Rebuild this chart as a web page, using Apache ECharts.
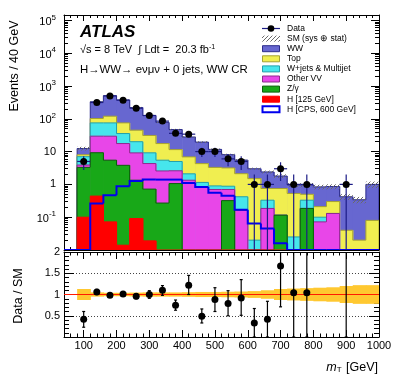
<!DOCTYPE html>
<html><head><meta charset="utf-8">
<script src="https://cdn.jsdelivr.net/npm/echarts@6/dist/echarts.min.js"></script>
<style>html,body{margin:0;padding:0;background:#fff;}#c{width:399px;height:383px;}</style>
</head><body><div id="c"></div>
<script>
// ---------------- data ----------------
const binLow = [80,120,160,200,240,280,320,360,400,440,480,520,560,600,640,680,720,760,800,840,880,920,960];
const binWidth = 40;
const higgs125 = [0.10,0.44,0.072,0.014,0.091,0.019,0,0,0,0,0,0,0,0,0,0,0,0,0,0,0,0,0];
const zgamma   = [3.2,8.8,5.4,3.8,1.25,0.70,0.27,1.06,0,0,0,0.32,0,0,0,0.115,0,0.185,0,0,0,0,0];
const otherVV  = [0.6,20.3,24.0,13.8,7.8,3.6,2.3,1.54,1.34,0.84,0.70,0.38,0.16,0,0.185,0,0,0,0.072,0.13,0,0,0];
const wjets    = [3.1,45.5,45.5,17.9,10.9,4.85,2.9,2.4,0.76,0.31,0.20,0.18,0.26,0.02,0.145,0,0.025,0.145,0.028,0,0,0,0];
const topBkg   = [1.0,27,45,39.5,25,21.9,12.1,6.5,4.8,3.15,2.4,2.3,1.7,1.48,0.42,0.635,0.505,0.17,0.11,0.17,0.04,0.02,0.08];
const wwBkg    = [4.4,228,385,300,175,95,60,35.5,21,15.2,8.4,4.9,3.4,1.5,1.65,1.05,0.43,0.46,0.63,0.56,0.38,0.32,0.92];
const cps600   = [0,0.26,0.47,0.88,1.27,1.4,1.4,1.4,1.1,0.84,0.56,0.45,0.17,0.064,0.045,0.016,0,0,0,0,0,0,0];
const dataCounts = [5,314,499,369,210,126,85,36,34,10,10,6,5,1,1,3,1,1,0,0,1,0,0];
const smRelUnc = [0.13,0.05,0.04,0.04,0.045,0.05,0.05,0.05,0.055,0.06,0.06,0.065,0.07,0.08,0.1,0.13,0.14,0.15,0.16,0.17,0.2,0.22,0.22];
const ratioVals  = [0.42,1.06,0.98,1.01,0.96,1.0,1.1,0.75,1.22,0.49,0.88,0.79,0.92,0.33,0.42,1.67,1.04,1.04,null,null,2.4,null,null];
const ratioErrLo = [0.23,1.0,0.94,0.96,0.9,0.91,0.98,0.63,1.0,0.33,0.6,0.5,0.51,0,0,0.71,0,0,null,null,0,null,null];
const ratioErrHi = [0.6,1.12,1.02,1.06,1.02,1.09,1.21,0.87,1.45,0.66,1.16,1.09,1.35,0.67,0.84,2.5,2.5,2.5,null,null,2.5,null,null];
const xTickLabels = [100,200,300,400,500,600,700,800,900,1000];
const yMainTickLabels = [0.1,1,10,100,1000,10000,100000];
const yRatioTickLabels = [0.5,1,1.5,2];
const legendNames = ['Data','SM (sys \u2295 stat)','WW','Top','W+jets & Multijet','Other VV','Z/\u03b3','H [125 GeV]','H [CPS, 600 GeV]'];

// ---------------- setup ----------------
const FONT = '"Liberation Sans", Arial, Helvetica, sans-serif';
const XMIN = 40, XMAX = 1000, YMIN = 0.01, YMAX = 1.46e5, RMIN = 0, RMAX = 2;
const n = binLow.length;

const comps = [higgs125, zgamma, otherVV, wjets, topBkg, wwBkg];
const cum = [];
let run = new Array(n).fill(0);
comps.forEach(c => { run = run.map((v, i) => v + c[i]); cum.push(run.slice()); });
const total = cum[cum.length - 1];

const hatch = document.createElement('canvas');
hatch.width = 4; hatch.height = 4;
const hc = hatch.getContext('2d');
hc.strokeStyle = '#6a6a6a'; hc.lineWidth = 1;
[[0,4,4,0],[-1,1,1,-1],[3,5,5,3]].forEach(s => { hc.beginPath(); hc.moveTo(s[0],s[1]); hc.lineTo(s[2],s[3]); hc.stroke(); });
const hatchFill = {image: hatch, repeat: 'repeat'};

// tick positions
const xMajor = xTickLabels.slice();
const xMinor = []; for (let x = 60; x < XMAX; x += 20) if (x % 100 !== 0) xMinor.push(x);
const yMajor = [0.01].concat(yMainTickLabels);
const yMinor = []; for (let k = -2; k <= 4; k++) for (let m = 2; m <= 9; m++) yMinor.push(+(m * Math.pow(10, k)).toPrecision(3));
const rMinor = []; for (let i = 1; i < 20; i++) if (i % 5 !== 0) rMinor.push(i / 10);

function xAx(grid, pos, ticks, len, extra) {
  return Object.assign({
    type: 'value', gridIndex: grid, position: pos, min: XMIN, max: XMAX,
    axisLine: {show: false, onZero: false}, splitLine: {show: false},
    axisTick: {show: true, inside: true, length: len, customValues: ticks, lineStyle: {color: '#000', width: 1}},
    axisLabel: {show: false}
  }, extra || {});
}
function yAx(grid, pos, ticks, len, isLog, extra) {
  const o = {
    type: isLog ? 'log' : 'value', gridIndex: grid, position: pos,
    min: isLog ? YMIN : RMIN, max: isLog ? YMAX : RMAX,
    axisLine: {show: false, onZero: false}, splitLine: {show: false},
    axisTick: {show: true, inside: true, length: len, customValues: ticks, lineStyle: {color: '#000', width: 1}},
    axisLabel: {show: false}
  };
  if (isLog) o.logBase = 10;
  return Object.assign(o, extra || {});
}
const frameLine = {show: true, onZero: false, lineStyle: {color: '#000', width: 1}};

const xAxes = [
  xAx(0, 'bottom', xMajor, 6, {axisLine: frameLine}),
  xAx(0, 'bottom', xMinor, 3),
  xAx(0, 'top', xMajor, 6, {axisLine: frameLine}),
  xAx(0, 'top', xMinor, 3),
  xAx(1, 'bottom', xMajor, 7, {axisLine: frameLine, axisLabel: {show: true, customValues: xTickLabels, margin: 3, fontSize: 11, fontFamily: FONT, color: '#000', hideOverlap: false, showMinLabel: true, showMaxLabel: true, formatter: v => String(v)}}),
  xAx(1, 'bottom', xMinor, 3.5),
  xAx(1, 'top', xMajor, 7, {axisLine: frameLine}),
  xAx(1, 'top', xMinor, 3.5)
];
const yAxes = [
  yAx(0, 'left', yMajor, 8, true, {axisLine: frameLine, axisLabel: {show: true, customValues: yMainTickLabels, margin: 8, fontSize: 11, fontFamily: FONT, color: '#000', hideOverlap: false,
    formatter: v => { const k = Math.round(Math.log10(v)); if (k === 0) return '{b|1}'; if (k === 1) return '{b|10}'; return '{b|10}{s|' + k + '}'; },
    rich: {b: {fontSize: 11, fontFamily: FONT, color: '#000', verticalAlign: 'bottom'}, s: {fontSize: 8, fontFamily: FONT, color: '#000', verticalAlign: 'bottom', padding: [0, 0, 6, 0]}}}}),
  yAx(0, 'left', yMinor, 4, true),
  yAx(0, 'right', yMajor, 8, true, {axisLine: frameLine}),
  yAx(0, 'right', yMinor, 4, true),
  yAx(1, 'left', [0, 0.5, 1, 1.5, 2], 10, false, {interval: 0.5, axisLine: frameLine,
    splitLine: {show: true, lineStyle: {color: '#444', width: 1, type: [1, 2]}},
    axisLabel: {show: true, customValues: yRatioTickLabels, margin: 4, fontSize: 11, fontFamily: FONT, color: '#000', hideOverlap: false, formatter: v => String(v)}}),
  yAx(1, 'left', rMinor, 5, false),
  yAx(1, 'right', [0, 0.5, 1, 1.5, 2], 10, false, {axisLine: frameLine}),
  yAx(1, 'right', rMinor, 5, false)
];

// ---------------- series ----------------
function histSeries(values, fill, stroke, lw, z, extendLeft) {
  const v = values.map(x => Math.max(x, YMIN));
  return {
    type: 'custom', xAxisIndex: 0, yAxisIndex: 0, clip: true, silent: true, z: z,
    encode: {x: [0, 1], y: 2},
    data: binLow.map((lo, i) => [lo, lo + binWidth, v[i]]),
    renderItem: function (params, api) {
      const i = params.dataIndex;
      const x0 = api.value(0), x1 = api.value(1), y = api.value(2);
      const prev = i === 0 ? YMIN : v[i - 1];
      const a = api.coord([x0, y]), b = api.coord([x1, y]), base = api.coord([x1, YMIN]);
      const children = [];
      if (fill && y > YMIN) children.push({type: 'rect', shape: {x: a[0], y: a[1], width: b[0] - a[0] + 0.6, height: base[1] - a[1]}, style: {fill: fill}});
      const pts = [];
      if (i === 0 && extendLeft) pts.push(api.coord([XMIN, YMIN]));
      pts.push(api.coord([x0, prev]), a, b);
      if (i === n - 1) pts.push(base);
      children.push({type: 'polyline', shape: {points: pts}, style: {stroke: stroke, lineWidth: lw, fill: null}});
      return {type: 'group', children: children};
    }
  };
}

const histDefs = [
  [cum[5], '#6767d0', '#2c2c8c'],
  [cum[4], '#f0ee50', '#a6a232'],
  [cum[3], '#46e6ec', '#23a0aa'],
  [cum[2], '#e846e8', '#8e2a8e'],
  [cum[1], '#18a818', '#0b5e0b'],
  [cum[0], '#ff0000', '#ff0000']
];
const series = histDefs.map((d, k) => histSeries(d[0], d[1], d[2], 1, 2 + k, false));

// SM uncertainty hatch
series.push({
  type: 'custom', xAxisIndex: 0, yAxisIndex: 0, clip: true, silent: true, z: 9,
  encode: {x: [0, 1], y: [2, 3]},
  data: binLow.map((lo, i) => [lo, lo + binWidth, Math.max(total[i] * (1 - smRelUnc[i]), YMIN), total[i] * (1 + smRelUnc[i])]),
  renderItem: function (params, api) {
    const a = api.coord([api.value(0), api.value(3)]), b = api.coord([api.value(1), api.value(2)]);
    return {type: 'rect', shape: {x: a[0], y: a[1], width: b[0] - a[0], height: b[1] - a[1]}, style: {fill: hatchFill}};
  }
});
// H [CPS 600] outline
series.push(histSeries(cps600, null, '#0000ee', 2, 10, true));

// data error bars
const dataRows = [];
binLow.forEach((lo, i) => { const N = dataCounts[i]; if (N > 0) dataRows.push([lo + binWidth / 2, N, Math.max(N - Math.sqrt(N), YMIN), N + Math.sqrt(N), lo, lo + binWidth]); });
series.push({
  type: 'custom', xAxisIndex: 0, yAxisIndex: 0, clip: true, silent: true, z: 11,
  encode: {x: 0, y: 1},
  data: dataRows,
  renderItem: function (params, api) {
    const c = api.coord([api.value(0), api.value(1)]);
    const lo = api.coord([api.value(0), api.value(2)]), hi = api.coord([api.value(0), api.value(3)]);
    const l = api.coord([api.value(4), api.value(1)]), r = api.coord([api.value(5), api.value(1)]);
    const st = {stroke: '#1c1c86', lineWidth: 1.2};
    return {type: 'group', children: [
      {type: 'line', shape: {x1: lo[0], y1: lo[1], x2: hi[0], y2: hi[1]}, style: st},
      {type: 'line', shape: {x1: l[0], y1: c[1], x2: r[0], y2: r[1]}, style: st}
    ]};
  }
});
series.push({
  type: 'scatter', xAxisIndex: 0, yAxisIndex: 0, z: 12, silent: true, clip: true,
  symbol: 'circle', symbolSize: 7, itemStyle: {color: '#000', opacity: 1},
  data: dataRows.map(r => [r[0], r[1]])
});

// ratio band
series.push({
  type: 'custom', xAxisIndex: 4, yAxisIndex: 4, clip: true, silent: true, z: 3,
  encode: {x: [0, 1], y: [2, 3]},
  data: binLow.map((lo, i) => [lo, lo + binWidth, 1 - smRelUnc[i], 1 + smRelUnc[i]]),
  renderItem: function (params, api) {
    const a = api.coord([api.value(0), api.value(3)]), b = api.coord([api.value(1), api.value(2)]);
    return {type: 'rect', shape: {x: a[0], y: a[1], width: b[0] - a[0] + 0.6, height: b[1] - a[1]}, style: {fill: '#ffc830'}};
  }
});
series.push({
  type: 'line', xAxisIndex: 4, yAxisIndex: 4, z: 4, silent: true, symbol: 'none',
  lineStyle: {color: '#ff1a00', width: 1}, data: [[XMIN, 1], [XMAX, 1]]
});
const ratioRows = [];
binLow.forEach((lo, i) => { if (ratioVals[i] !== null) ratioRows.push([lo + binWidth / 2, ratioVals[i], ratioErrLo[i], ratioErrHi[i]]); });
series.push({
  type: 'custom', xAxisIndex: 4, yAxisIndex: 4, clip: true, silent: true, z: 5,
  encode: {x: 0, y: 1},
  data: ratioRows,
  renderItem: function (params, api) {
    const lo = api.coord([api.value(0), api.value(2)]), hi = api.coord([api.value(0), api.value(3)]);
    const st = {stroke: '#000', lineWidth: 1.2};
    return {type: 'group', children: [
      {type: 'line', shape: {x1: lo[0], y1: lo[1], x2: hi[0], y2: hi[1]}, style: st},
      {type: 'line', shape: {x1: lo[0] - 1.5, y1: lo[1], x2: lo[0] + 1.5, y2: lo[1]}, style: st},
      {type: 'line', shape: {x1: hi[0] - 1.5, y1: hi[1], x2: hi[0] + 1.5, y2: hi[1]}, style: st}
    ]};
  }
});
series.push({
  type: 'scatter', xAxisIndex: 4, yAxisIndex: 4, z: 6, silent: true, clip: true,
  symbol: 'circle', symbolSize: 7, itemStyle: {color: '#000', opacity: 1},
  data: ratioRows.filter(r => r[1] <= RMAX).map(r => [r[0], r[1]])
});

// ---------------- text & legend ----------------
const graphics = [];
function txt(x, y, text, font, extra) {
  graphics.push({type: 'text', x: x, y: y, silent: true, z: 100,
    style: Object.assign({text: text, font: font, fill: '#000', align: 'left', verticalAlign: 'middle'}, extra || {})});
}
txt(80, 32, 'ATLAS', 'italic bold 17px ' + FONT);
txt(80, 50, '\u221as = 8 TeV  \u222b Ldt =  20.3 fb{s|-1}', '11px ' + FONT, {rich: {s: {fontSize: 7, fontFamily: FONT, padding: [0, 0, 5, 0], verticalAlign: 'bottom'}}});
txt(80, 69.5, 'H\u2192WW\u2192 e\u03bd\u03bc\u03bd + 0 jets, WW CR', '11.4px ' + FONT);
graphics.push({type: 'text', x: 15, y: 66, rotation: Math.PI / 2, silent: true, style: {text: 'Events / 40 GeV', font: '12.5px ' + FONT, fill: '#000', align: 'center', verticalAlign: 'middle'}});
graphics.push({type: 'text', x: 19, y: 296, rotation: Math.PI / 2, silent: true, style: {text: 'Data / SM', font: '12.5px ' + FONT, fill: '#000', align: 'center', verticalAlign: 'middle'}});
graphics.push({type: 'text', x: 378, y: 368, silent: true, style: {text: '{i|m}{t|T} [GeV]', font: '12.5px ' + FONT, fill: '#000', align: 'right', verticalAlign: 'middle',
  rich: {i: {fontStyle: 'italic', fontSize: 12.5, fontFamily: FONT}, t: {fontSize: 8, fontFamily: FONT, padding: [4, 1, 0, 0], verticalAlign: 'top'}}}});

const legY0 = 28.5, legStep = 10.1, swX = 262, swW = 18, swH = 6;
const swatches = [
  null, 'hatch', ['#6767d0', '#2c2c8c'], ['#f0ee50', '#a6a232'], ['#46e6ec', '#23a0aa'], ['#e846e8', '#8e2a8e'], ['#18a818', '#0b5e0b'], ['#ff0000', '#ff0000'], ['#ffffff', '#0000ee']
];
legendNames.forEach((name, i) => {
  const y = legY0 + legStep * i;
  if (i === 0) {
    graphics.push({type: 'line', silent: true, shape: {x1: swX, y1: y, x2: swX + swW, y2: y}, style: {stroke: '#1c1c86', lineWidth: 1.2}});
    graphics.push({type: 'circle', silent: true, shape: {cx: swX + swW / 2, cy: y, r: 3.3}, style: {fill: '#000'}});
  } else if (swatches[i] === 'hatch') {
    graphics.push({type: 'rect', silent: true, shape: {x: swX, y: y - swH / 2, width: swW, height: swH}, style: {fill: hatchFill}});
  } else {
    const s = swatches[i];
    graphics.push({type: 'rect', silent: true, shape: {x: swX + 0.5, y: y - swH / 2, width: swW - 1, height: swH}, style: {fill: s[0], stroke: s[1], lineWidth: i === 8 ? 2 : 1}});
  }
  txt(287, y, name, '8.5px ' + FONT);
});

const chart = echarts.init(document.getElementById('c'), null, {renderer: 'canvas', width: 399, height: 383});
chart.setOption({
  animation: false,
  backgroundColor: '#fff',
  grid: [
    {left: 64, top: 15, width: 315, height: 235, containLabel: false, outerBoundsMode: 'none'},
    {left: 64, top: 252, width: 315, height: 85, containLabel: false, outerBoundsMode: 'none'}
  ],
  xAxis: xAxes,
  yAxis: yAxes,
  series: series,
  graphic: graphics
});
</script></body></html>
